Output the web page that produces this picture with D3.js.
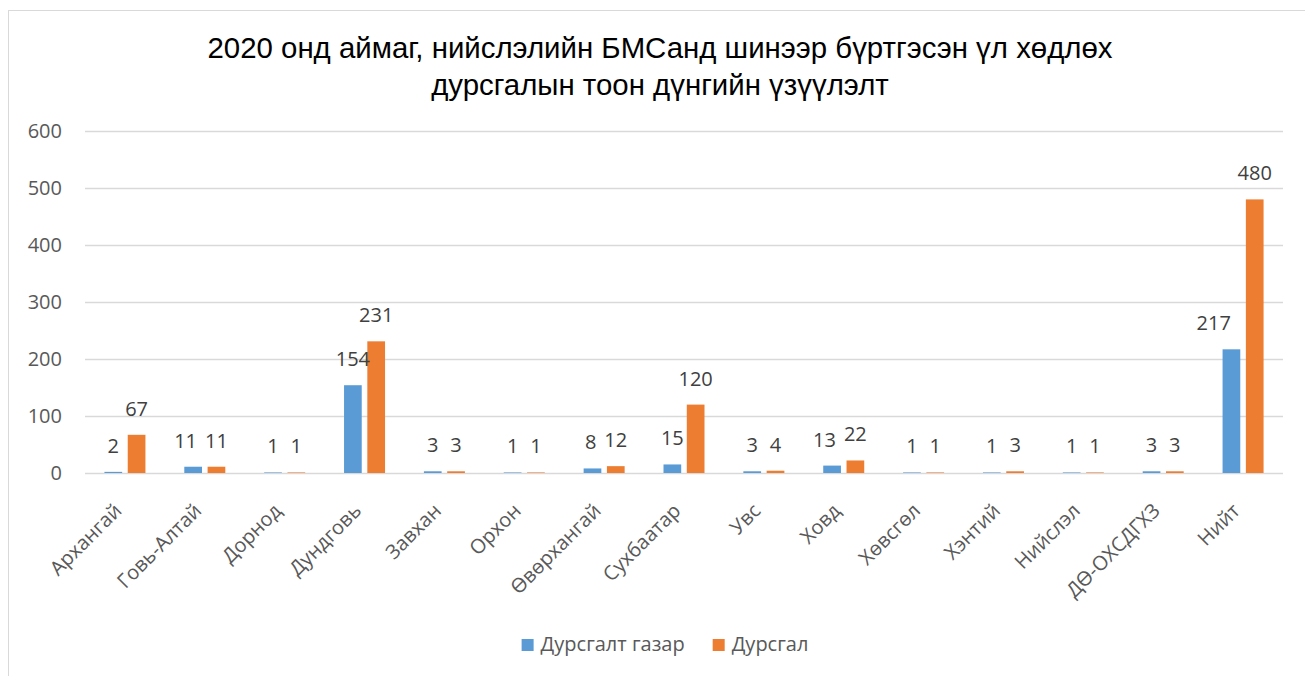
<!DOCTYPE html>
<html>
<head>
<meta charset="utf-8">
<script src="https://cdn.jsdelivr.net/npm/d3@7"></script>
<style>
  body { margin: 0; background: #fff; }
  svg { display: block; }
</style>
</head>
<body>
<div id="chart"></div>
<script>
// Dữ liệu
const categories = ["Архангай", "Говь-Алтай", "Дорнод", "Дундговь", "Завхан", "Орхон", "Өвөрхангай",
    "Сухбаатар", "Увс", "Ховд", "Хөвсгөл", "Хэнтий", "Нийслэл", "ДӨ-ОХСДГХЗ", "Нийт"];
const seriesNames = ["Дурсгалт газар", "Дурсгал"];
const sites = [2, 11, 1, 154, 3, 1, 8, 15, 3, 13, 1, 1, 1, 3, 217];
const monuments = [67, 11, 1, 231, 3, 1, 12, 120, 4, 22, 1, 3, 1, 3, 480];
const yTicks = [0, 100, 200, 300, 400, 500, 600];
const titleLines = ["2020 онд аймаг, нийслэлийн БМСанд шинээр бүртгэсэн үл хөдлөх",
    "дурсгалын тоон дүнгийн үзүүлэлт"];
const colors = ["#5b9bd5", "#ed7d31"];

function drawChart() {
    d3.select("#chart").selectAll("*").remove();

    const W = 1305, H = 676;
    const plot = { left: 85, right: 1283, top: 131, bottom: 473 };
    const font = "'Open Sans', 'Noto Sans', sans-serif";

    const svg = d3.select("#chart").append("svg")
        .attr("width", W)
        .attr("height", H);

    // Khung viền
    svg.append("rect")
        .attr("x", 8.5).attr("y", 10.5)
        .attr("width", 1302).attr("height", 672)
        .attr("fill", "#fff")
        .attr("stroke", "#d9d9d9");

    // Tiêu đề
    svg.append("text")
        .attr("text-anchor", "middle")
        .style("font-family", "'Liberation Sans', Arial, sans-serif")
        .style("font-size", "29.4px")
        .attr("fill", "#000")
        .selectAll("tspan")
        .data(titleLines)
        .enter().append("tspan")
        .attr("x", 660)
        .attr("y", (d, i) => 58 + i * 37)
        .text(d => d);

    // Thang đo
    const x = d3.scaleBand()
        .domain(categories)
        .range([plot.left, plot.right])
        .padding(0);

    const xSub = d3.scaleBand()
        .domain([0, 1])
        .range([-20.5, 20.5])
        .paddingInner(0.24);

    const y = d3.scaleLinear()
        .domain([0, 600])
        .range([plot.bottom, plot.top]);

    // Lưới
    svg.append("g")
        .selectAll("line")
        .data(yTicks)
        .enter().append("line")
        .attr("x1", plot.left).attr("x2", plot.right)
        .attr("y1", d => Math.round(y(d)) + 0.5)
        .attr("y2", d => Math.round(y(d)) + 0.5)
        .attr("stroke", "#d9d9d9")
        .attr("stroke-width", 1.3);

    // Nhãn trục Y
    const yAxis = svg.append("g")
        .attr("transform", `translate(${plot.left - 23},0)`)
        .call(d3.axisLeft(y).tickValues(yTicks).tickSize(0).tickPadding(0));
    yAxis.select(".domain").remove();
    yAxis.selectAll("text")
        .style("font-family", font)
        .style("font-size", "20px")
        .attr("fill", "#595959");

    // Cột
    const rows = categories.map((c, i) => ({ c, vals: [sites[i], monuments[i]] }));
    const groups = svg.append("g")
        .selectAll("g")
        .data(rows)
        .enter().append("g")
        .attr("transform", d => `translate(${x(d.c) + x.bandwidth() / 2},0)`);

    groups.selectAll("rect")
        .data(d => d.vals.map((v, k) => ({ v, k })))
        .enter().append("rect")
        .attr("x", d => xSub(d.k))
        .attr("y", d => y(d.v))
        .attr("width", xSub.bandwidth())
        .attr("height", d => y(0) - y(d.v))
        .attr("fill", d => colors[d.k]);

    // Nhãn giá trị
    groups.each(function (row) {
        const g = d3.select(this);
        const labels = row.vals.map((v, k) => g.append("text")
            .attr("y", y(v) - 19)
            .attr("x", xSub(k) + xSub.bandwidth() / 2)
            .attr("text-anchor", "middle")
            .style("font-family", font)
            .style("font-size", "20px")
            .attr("fill", "#404040")
            .text(v));
        const [a, b] = row.vals;
        if (b > 2 * a && a > 50) {
            // nhãn cột xanh bị cột cam cao hơn nhiều che -> dịch sang trái
            labels[0].attr("x", xSub(1) - 15).attr("text-anchor", "end");
        } else if (Math.abs(y(a) - y(b)) < 16) {
            // hai nhãn cùng độ cao bị dính nhau -> tách ra
            const wa = labels[0].node().getComputedTextLength();
            const wb = labels[1].node().getComputedTextLength();
            const ca = xSub(0) + xSub.bandwidth() / 2, cb = xSub(1) + xSub.bandwidth() / 2;
            const overlap = (ca + wa / 2) + 8 - (cb - wb / 2);
            if (overlap > 0) labels[0].attr("x", ca - overlap);
        }
    });

    // Nhãn trục X
    svg.append("g")
        .selectAll("text")
        .data(categories)
        .enter().append("text")
        .attr("transform", d => `translate(${x(d) + x.bandwidth() / 2 - 2},512) rotate(-45)`)
        .attr("text-anchor", "end")
        .style("font-family", font)
        .style("font-size", "20px")
        .attr("fill", "#595959")
        .text(d => d);

    // Chú thích
    const legend = svg.append("g");
    const items = legend.selectAll("g")
        .data(seriesNames)
        .enter().append("g");
    items.append("rect")
        .attr("width", 12).attr("height", 12)
        .attr("y", 639)
        .attr("fill", (d, i) => colors[i]);
    items.append("text")
        .attr("x", 19)
        .attr("y", 651)
        .style("font-family", font)
        .style("font-size", "20px")
        .attr("fill", "#595959")
        .text(d => d);
    let cx = 0;
    const offs = [];
    items.each(function () {
        const w = 19 + d3.select(this).select("text").node().getComputedTextLength();
        offs.push(cx);
        cx += w + 28;
    });
    const total = cx - 28;
    const start = 665 - total / 2;
    items.attr("transform", (d, i) => `translate(${start + offs[i]},0)`);
}

drawChart();
</script>
</body>
</html>
